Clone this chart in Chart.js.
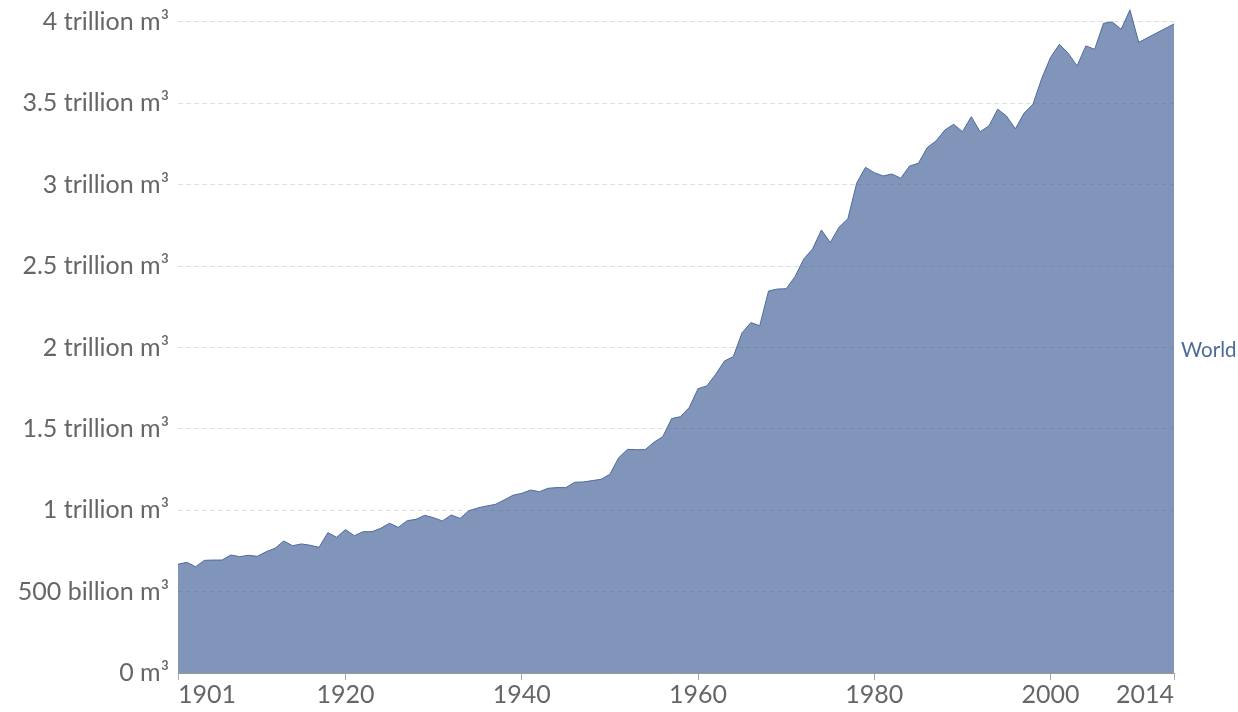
<!DOCTYPE html>
<html>
<head>
<meta charset="utf-8">
<script src="https://cdn.jsdelivr.net/npm/chart.js@4.4.1/dist/chart.umd.min.js"></script>
<style>
  html, body { margin: 0; padding: 0; background: #fff; }
  #wrap { width: 1238px; height: 712px; position: relative; }
</style>
</head>
<body>
<div id="wrap"><canvas id="c" width="1238" height="712"></canvas></div>
<script>
// Years 1901-2014
const years = [];
for (let y = 1901; y <= 2014; y++) years.push(y);

// World values, trillion m³ (2011-2013 not reported)
const worldValues = [
  0.668, 0.680, 0.653, 0.692, 0.694, 0.694, 0.725, 0.715, 0.723, 0.717, // 1901-1910
  0.745, 0.766, 0.811, 0.782, 0.793, 0.785, 0.772, 0.862, 0.834, 0.881, // 1911-1920
  0.844, 0.868, 0.868, 0.889, 0.920, 0.895, 0.936, 0.944, 0.969, 0.954, // 1921-1930
  0.934, 0.971, 0.950, 0.997, 1.014, 1.026, 1.036, 1.063, 1.092, 1.104, // 1931-1940
  1.124, 1.114, 1.135, 1.139, 1.139, 1.172, 1.174, 1.182, 1.190, 1.221, // 1941-1950
  1.323, 1.374, 1.372, 1.372, 1.418, 1.452, 1.563, 1.575, 1.631, 1.747, // 1951-1960
  1.764, 1.835, 1.917, 1.944, 2.091, 2.153, 2.134, 2.347, 2.359, 2.361, // 1961-1970
  2.435, 2.544, 2.606, 2.722, 2.645, 2.739, 2.791, 3.010, 3.107, 3.074, // 1971-1980
  3.054, 3.066, 3.040, 3.115, 3.132, 3.228, 3.269, 3.336, 3.371, 3.326, // 1981-1990
  3.418, 3.326, 3.361, 3.464, 3.422, 3.343, 3.441, 3.495, 3.654, 3.783, // 1991-2000
  3.863, 3.808, 3.730, 3.853, 3.832, 3.992, 4.000, 3.955, 4.074, 3.875, // 2001-2010
  null, null, null, 3.988                                                // 2011-2014
];

const xTickYears = [1901, 1920, 1940, 1960, 1980, 2000, 2014];
const yTickValues = [0, 0.5, 1, 1.5, 2, 2.5, 3, 3.5, 4];
const seriesName = 'World';

function formatY(v) {
  if (v === 0) return '0 m\u00B3';
  if (v < 1) return Math.round(v * 1000) + ' billion m\u00B3';
  return (+v.toFixed(2)) + ' trillion m\u00B3';
}

const LINE = '#4c6a9c';
const FILL = 'rgba(76,106,156,0.71)';
const TEXT = '#666666';

const labelPlugin = {
  id: 'seriesLabel',
  afterDraw(chart) {
    const ctx = chart.ctx;
    const ys = chart.scales.y;
    const last = worldValues[worldValues.length - 1];
    ctx.save();
    ctx.font = '20.5px Lato';
    ctx.fillStyle = LINE;
    ctx.textAlign = 'left';
    ctx.textBaseline = 'middle';
    ctx.fillText(seriesName, chart.chartArea.right + 7, ys.getPixelForValue(last / 2) + 2);
    ctx.restore();
  }
};

new Chart(document.getElementById('c'), {
  type: 'line',
  data: {
    datasets: [{
      label: seriesName,
      data: years.map((y, i) => ({ x: y, y: worldValues[i] })),
      borderColor: LINE,
      backgroundColor: FILL,
      borderWidth: 1,
      fill: 'origin',
      pointRadius: 0,
      tension: 0,
      spanGaps: true
    }]
  },
  options: {
    responsive: false,
    animation: false,
    devicePixelRatio: 1,
    layout: { padding: { left: 0, right: 64, top: 0, bottom: 0 } },
    plugins: { legend: { display: false }, tooltip: { enabled: false } },
    scales: {
      x: {
        type: 'linear',
        min: 1901,
        max: 2014,
        afterBuildTicks(scale) { scale.ticks = xTickYears.map(v => ({ value: v })); },
        afterFit(scale) { scale.height = 39; scale.paddingLeft = 0; scale.paddingRight = 0; },
        grid: { drawOnChartArea: false, drawTicks: true, tickLength: 7, tickColor: '#aaaaaa' },
        border: { display: true, color: '#999999', width: 1 },
        ticks: {
          autoSkip: false, maxRotation: 0, align: 'inner',
          color: TEXT, font: { family: 'Lato', size: 25 }, padding: 0,
          callback: v => String(v)
        }
      },
      y: {
        min: 0,
        max: 4.135,
        afterBuildTicks(scale) { scale.ticks = yTickValues.map(v => ({ value: v })); },
        afterFit(scale) { scale.width = 178; scale.paddingTop = 0; scale.paddingBottom = 0; },
        grid: { color: '#dddddd', drawTicks: false, lineWidth: 1 },
        border: { display: false, dash: [5, 3] },
        ticks: {
          color: TEXT, font: { family: 'Lato', size: 25 }, padding: 9,
          callback: v => formatY(v)
        }
      }
    }
  },
  plugins: [labelPlugin]
});
</script>
</body>
</html>
